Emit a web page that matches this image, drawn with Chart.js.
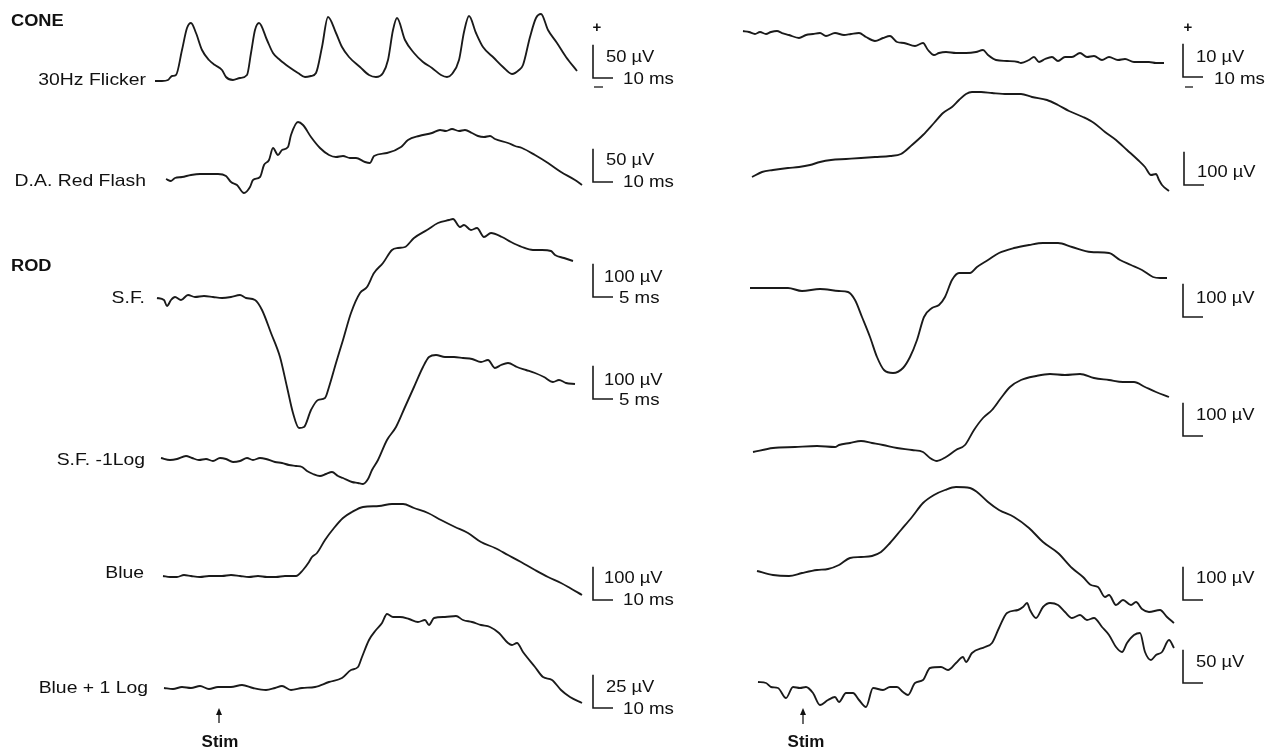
<!DOCTYPE html>
<html><head><meta charset="utf-8">
<script src="https://cdn.jsdelivr.net/npm/chart.js@4.4.1/dist/chart.umd.min.js"></script>
<style>html,body{margin:0;padding:0;background:#fff;overflow:hidden}canvas{display:block}</style>
</head><body><canvas id="c" width="1275" height="750"></canvas>
<script>
// ---- Trace data: [time (ms), amplitude (µV)] ----
const leftFlicker = [[0,0],[3.5,0],[6.5,1.5],[8.5,7.5],[10.5,9],[13.5,46.5],[16,79.5],[18,87],[20.5,72],[23.5,46.5],[27,31.5],[30,24],[33.5,16.5],[35.5,6],[39,1.5],[42.5,4.5],[46,9],[48,42],[50,76.5],[52,87],[56,61.5],[59,42],[62.5,31.5],[67,21],[71.5,12],[75,6],[78,7.5],[80.5,12],[83.5,51],[86.5,96],[90.5,72],[93.5,51],[97,36],[102.5,21],[107,9],[110.5,6],[114,12],[116.5,31.5],[119,76.5],[121,94.5],[125,61.5],[129.5,42],[134,28.5],[138.5,19.5],[143,9],[146,6],[148.5,10.5],[152,31.5],[154.5,73.5],[157,97.5],[160.5,72],[164,51],[169.5,34.5],[174,21],[178.5,10.5],[182,16.5],[184,24],[187.5,66],[190.5,94.5],[193,100.5],[196.5,76.5],[201,57],[205.5,36],[211,15]];
const leftRedFlash = [[0,-1.5],[2.5,-4.5],[4.5,0],[8,1.5],[12.5,4.5],[17,6],[21.5,6],[26,6],[30,3],[32.5,-6],[35.5,-10.5],[39,-22.5],[42,-13.5],[43.5,-3],[47,1.5],[49,19.5],[51.5,27],[53.5,45],[56,34.5],[58,42],[61,46.5],[62.5,64.5],[66,84],[68.5,79.5],[72.5,61.5],[77,45],[81.5,34.5],[85,31.5],[88.5,33],[92,30],[95,30],[99.5,24],[102,22.5],[104,33],[110.5,37.5],[117.5,46.5],[121,57],[126.5,63],[133,67.5],[137,72],[140,70.5],[143,73.5],[146.5,70.5],[149.5,72],[153,67.5],[156,63],[159,61.5],[162,63],[164.5,58.5],[171,52.5],[174.5,48],[178,45],[184.5,34.5],[191,22.5],[197.5,9],[204.5,-3],[208,-10.5]];
const leftSF = [[0,0],[1.75,-6],[2.5,-24],[3.5,-6],[4.5,3],[6,-6],[7.75,9],[9.5,3],[11.75,6],[14,3],[16.25,0],[18.5,3],[20.75,9],[22.25,0],[24.5,-6],[26.25,-36],[28.5,-105],[30.75,-177],[32.5,-267],[34,-345],[35.5,-390],[36.75,-387],[38.5,-336],[40.25,-306],[42,-300],[43,-267],[44.75,-195],[46.5,-126],[48.5,-45],[50.75,15],[52.5,33],[54.25,75],[56.5,105],[58.75,144],[60.25,150],[62,153],[64.25,180],[67.5,204],[70.25,225],[73,234],[74,237],[75.75,213],[76.75,219],[78.5,204],[80,210],[81.75,183],[83.5,195],[86.25,183],[88.5,168],[91.25,153],[94,144],[96.25,144],[98.5,141],[99.5,129],[101.75,120],[104,111]];
const leftSFminus1Log = [[0,3],[2.25,-3],[4,0],[6.25,9],[7.75,3],[9.5,-3],[11.25,0],[13,-6],[14.75,3],[16.25,0],[18,-9],[19.75,-6],[21.5,3],[23,-3],[24.75,3],[26.25,0],[28.5,-9],[30.25,-12],[32,-18],[33.75,-21],[35.25,-24],[36.5,-36],[38,-45],[39.75,-51],[41.25,-45],[42.75,-39],[44.25,-51],[45.5,-57],[47.75,-69],[49.25,-72],[50.5,-75],[51.75,-60],[52.75,-33],[54.25,-3],[56.5,57],[58.75,96],[61,156],[63.25,216],[65.5,276],[67,306],[68.75,312],[71,306],[73.25,306],[75.5,303],[77.75,300],[80,291],[81.75,297],[83.5,273],[85,282],[86.75,288],[89,276],[91.25,267],[93.5,258],[95.75,246],[98,231],[99.5,237],[101.25,228],[103.5,225]];
const leftBlue = [[0,0],[3.5,-3],[7,-3],[10.5,3],[14,0],[18.5,-3],[23,0],[29.5,0],[34,3],[38.5,0],[43,-3],[47.5,0],[52,-3],[56.5,-3],[61,0],[66.5,0],[70,18],[73,42],[74.5,57],[77,69],[81,108],[85.5,144],[90,174],[94.5,192],[100,207],[108,210],[114.5,216],[120,216],[125.5,204],[132.5,189],[139,168],[146,147],[152.5,129],[159,102],[166,84],[172.5,63],[179,42],[186,18],[192.5,-3],[199,-21],[203.5,-36],[209.5,-57]];
const leftBluePlus1Log = [[0,0],[4.5,-0.75],[9,0.75],[13.5,0],[18,1.5],[22.5,-0.75],[27,0.75],[33.5,0.75],[39,2.25],[44.5,0],[51,-1.5],[55.5,0],[59,1.5],[63.5,-1.5],[69,0],[75.5,0.75],[82.5,4.5],[89,7.5],[93.5,13.5],[97,15.75],[99,23.25],[102.5,36],[106,43.5],[109,48.75],[111.5,55.5],[114.5,53.25],[118,53.25],[122.5,51.75],[127,49.5],[130.5,51],[132.5,47.25],[135,52.5],[140.5,53.25],[146,54],[149.5,51],[154,49.5],[158.5,47.25],[163,45.75],[167.5,41.25],[172,33.75],[174,32.25],[176.5,33.75],[179.5,27],[185.5,15.75],[189.5,8.25],[194,6],[198.5,-1.5],[203,-6.75],[209,-11.25]];
const rightFlicker = [[0,0],[3,-0.3],[6,-0.9],[8.5,-0.3],[11.5,-0.9],[14,-0.3],[17,0],[19.5,-0.6],[23,-1.2],[28,-2.1],[31.5,-1.2],[35,-0.9],[38.5,-0.6],[41.5,-1.5],[46,-0.6],[50.5,-1.2],[54,-0.9],[58,-0.6],[61.5,-1.8],[66,-3],[70,-2.1],[73.5,-1.5],[77,-3.3],[80.5,-3.6],[86,-4.5],[90,-3.6],[92.5,-5.7],[95.5,-7.2],[98,-6.6],[101.5,-6.3],[106.5,-6.6],[111.5,-6.6],[116.5,-6.3],[120,-5.7],[122.5,-7.2],[126.5,-8.7],[132,-9],[137.5,-9.3],[139,-9.6],[143,-8.7],[145.5,-7.8],[148,-9.3],[151,-8.4],[154.5,-7.8],[157.5,-9],[161,-7.8],[164.5,-7.8],[168.5,-6.6],[172,-7.8],[175.5,-7.5],[179.5,-8.7],[183,-7.8],[187.5,-8.7],[191,-8.4],[195.5,-9.3],[199.5,-9.3],[203,-9.3],[206.5,-9.6],[210.5,-9.6]];
const rightRedFlash = [[0,0],[5,15],[10.5,21],[18,27],[23.5,30],[29,36],[34,45],[39.5,51],[47,54],[54.5,57],[61.5,60],[69,63],[74.5,69],[80,96],[85.5,126],[91,162],[95.5,192],[100,210],[103.5,231],[107,249],[110,255],[114.5,255],[120,252],[127.5,249],[134.5,249],[140,240],[147.5,231],[153,216],[158.5,198],[165.5,180],[171,162],[176.5,135],[182,111],[187.5,81],[193,51],[196.5,30],[199.5,6],[202,9],[203.5,-9],[205,-24],[208.5,-42]];
const rightSF = [[0,0],[11.5,0],[19,0],[26,-9],[35,-3],[44.5,-9],[49,-12],[52.5,-36],[56,-87],[60,-147],[63.5,-207],[67,-246],[71.5,-255],[76.5,-240],[80,-207],[83.5,-156],[87,-87],[91,-60],[94.5,-51],[97.5,-27],[101,24],[104.5,45],[110,45],[113.5,63],[119,84],[124.5,105],[132,120],[139.5,129],[146.5,135],[154,135],[161,123],[170.5,108],[179.5,105],[185,84],[190.5,69],[196,54],[201.5,33],[205,30],[208.5,30]];
const rightSFminus1Log = [[0,0],[10,12],[21,15],[32,18],[41,15],[43,21],[48.5,27],[54,33],[59.5,27],[65,21],[72,12],[79.5,6],[85,0],[88.5,-18],[92,-27],[96.5,-15],[101.5,6],[106,21],[110.5,66],[115,102],[119.5,126],[124,162],[128.5,195],[134,216],[141.5,228],[148.5,234],[156,231],[163.5,234],[170.5,222],[178,216],[185,210],[190.5,210],[196,195],[201.5,180],[208,165]];
const rightBlue = [[0,0],[8,-12],[16,-15],[22.5,-6],[30,3],[35.5,6],[41,18],[46.5,39],[52,42],[57.5,45],[62,57],[66.5,84],[72,123],[77.5,162],[83,204],[88.5,228],[94,243],[99.5,252],[106.5,249],[110,237],[115.5,207],[121,183],[128.5,162],[136,129],[143,87],[150.5,54],[157.5,9],[163,-18],[167,-42],[170.5,-48],[174,-78],[176,-72],[179.5,-102],[183,-87],[187,-102],[189.5,-93],[192.5,-114],[196,-123],[201.5,-117],[205,-138],[208.5,-156]];
const rightBluePlus1Log = [[0,0],[4,-1.5],[6.5,-7.5],[10,-9],[14,-24],[17.5,-7.5],[21,-9],[24,-7.5],[27.5,-16.5],[31,-34.5],[35,-27],[38.5,-22.5],[40.5,-30],[44,-16.5],[47.5,-16.5],[50.5,-27],[54,-37.5],[57.5,-9],[62.5,-12],[66,-7.5],[69.5,-7.5],[72.5,-15],[75,-19.5],[78.5,-1.5],[82.5,3],[86,21],[91.5,22.5],[95,18],[99,28.5],[102.5,37.5],[104,30],[107,43.5],[113.5,52.5],[117,58.5],[120.5,81],[124.5,103.5],[130,108],[132.5,112.5],[134.5,118.5],[136,108],[139,96],[142.5,112.5],[146,118.5],[150,115.5],[153.5,105],[157,96],[161,100.5],[164.5,93],[168,96],[172,82.5],[175.5,70.5],[179,52.5],[182,45],[184.5,58.5],[188,70.5],[191,73.5],[193.5,45],[196.5,33],[199,40.5],[202,45],[205.5,63],[208,51]];

// ---- Labels ----
const sectionLabels = ['CONE', 'ROD'];
const traceLabels = ['30Hz Flicker', 'D.A. Red Flash', 'S.F.', 'S.F. -1Log', 'Blue', 'Blue + 1 Log'];
const leftAmpBars = [50, 50, 100, 100, 100, 25];      // µV
const leftTimeBars = [10, 10, 5, 5, 10, 10];          // ms
const rightAmpBars = [10, 100, 100, 100, 100, 50];    // µV
const rightTimeBars = [10, null, null, null, null, null];
const stimLabel = 'Stim';

// ---- Layout (page pixels; positions/sizes only) ----
const W = 1275, H = 750;
const leftSeries = [leftFlicker, leftRedFlash, leftSF, leftSFminus1Log, leftBlue, leftBluePlus1Log];
const rightSeries = [rightFlicker, rightRedFlash, rightSF, rightSFminus1Log, rightBlue, rightBluePlus1Log];
// origin x, origin y (t=0, v=0), px per ms, µV per px
const leftGeom = [[155,81,2,1.5],[166,178,2,1.5],[157,298,4,3],[161,459,4,3],[163,576,2,3],[164,688,2,0.75]];
const rightGeom = [[743,31,2,0.3],[752,177,2,3],[750,288,2,3],[753,452,2,3],[757,571,2,3],[758,682,2,1.5]];
const leftLabelPos = [[146,80],[146,181],[145,298],[145,460],[144,573],[148,688]];
// bar corner x,y ; amp text left,y ; time text left,y
const leftBarPos = [[593,78,606,57,623,79],[593,182,606,160,623,182],[593,297,604,277,619,298],[593,399,604,380,619,400],[593,600,604,578,623,600],[593,708,606,687,623,709]];
const rightBarPos = [[1183,77,1196,57,1214,79],[1184,185,1197,172],[1183,317,1196,298],[1183,436,1196,415],[1183,600,1196,578],[1183,683,1196,662]];

const all = [];
leftSeries.forEach((d,i)=>all.push({data:d, g:leftGeom[i], amp:leftAmpBars[i], ms:leftTimeBars[i], bar:leftBarPos[i], barLen:leftTimeBars[i]}));
rightSeries.forEach((d,i)=>all.push({data:d, g:rightGeom[i], amp:rightAmpBars[i], ms:rightTimeBars[i], bar:rightBarPos[i], barLen:10}));

const scales = {
  x: {type:'linear', display:false, min:0, max:1},
  y: {type:'linear', display:false, min:0, max:1}
};
const datasets = all.map((t,i)=>{
  const [ox, oy, pxMs, uvPx] = t.g;
  scales['x'+i] = {type:'linear', axis:'x', display:false, min:-ox/pxMs, max:(W-ox)/pxMs};
  scales['y'+i] = {type:'linear', axis:'y', display:false, min:-(H-oy)*uvPx, max:oy*uvPx};
  return {
    data: t.data.map(p=>({x:p[0], y:p[1]})),
    xAxisID:'x'+i, yAxisID:'y'+i,
    borderColor:'#1a1a1a', borderWidth:1.85, pointRadius:0,
    cubicInterpolationMode:'monotone', fill:false, clip:false
  };
});

function txt(ctx, s, x, y, opt){
  opt = opt || {};
  ctx.save();
  ctx.font = (opt.bold?'bold ':'') + (opt.size||17) + 'px "Liberation Sans", Arial, Helvetica, sans-serif';
  ctx.fillStyle = '#111';
  ctx.textBaseline = 'middle';
  ctx.textAlign = opt.align || 'left';
  ctx.translate(x, y);
  ctx.scale(opt.stretch||1, 1);
  ctx.fillText(s, 0, 0);
  ctx.restore();
}

const annot = {
  id:'annot',
  afterDatasetsDraw(chart){
    const ctx = chart.ctx;
    txt(ctx, sectionLabels[0], 11, 22, {bold:true, size:16, stretch:1.14});
    txt(ctx, sectionLabels[1], 11, 267, {bold:true, size:16, stretch:1.14});
    traceLabels.forEach((s,i)=>txt(ctx, s, leftLabelPos[i][0], leftLabelPos[i][1], {align:'right', size:17, stretch:1.14}));
    ctx.save();
    ctx.strokeStyle = '#1a1a1a'; ctx.lineWidth = 1.6;
    all.forEach((t,i)=>{
      const xs = chart.scales['x'+i], ys = chart.scales['y'+i];
      const [bx, by] = t.bar;
      const v0 = ys.getValueForPixel(by), t0 = xs.getValueForPixel(bx);
      const top = ys.getPixelForValue(v0 + t.amp);
      const right = xs.getPixelForValue(t0 + t.barLen);
      ctx.beginPath();
      ctx.moveTo(bx, top); ctx.lineTo(bx, by); ctx.lineTo(right, by);
      ctx.stroke();
      txt(ctx, t.amp + ' µV', t.bar[2], t.bar[3], {size:17, stretch:1.08});
      if (t.ms) txt(ctx, t.ms + ' ms', t.bar[4], t.bar[5], {size:17, stretch:1.1});
    });
    [[597,28,594,603,87],[1188,28,1185,1193,87]].forEach(p=>{
      txt(ctx, '+', p[0], p[1], {bold:true, size:15, align:'center'});
      ctx.beginPath(); ctx.moveTo(p[2], p[4]); ctx.lineTo(p[3], p[4]); ctx.lineWidth=1.3; ctx.stroke();
    });
    [[219,708,723,220],[803,708,724,806]].forEach(p=>{
      ctx.beginPath(); ctx.moveTo(p[0], p[1]+5); ctx.lineTo(p[0], p[2]); ctx.lineWidth=1.3; ctx.stroke();
      ctx.beginPath(); ctx.moveTo(p[0], p[1]); ctx.lineTo(p[0]-3, p[1]+7); ctx.lineTo(p[0]+3, p[1]+7); ctx.closePath();
      ctx.fillStyle='#111'; ctx.fill();
      txt(ctx, stimLabel, p[3], 742, {bold:true, size:17, align:'center'});
    });
    ctx.restore();
  }
};

new Chart(document.getElementById('c'), {
  type:'line',
  data:{datasets},
  options:{
    responsive:false, animation:false, devicePixelRatio:1,
    layout:{padding:0},
    plugins:{legend:{display:false}, tooltip:{enabled:false}, title:{display:false}},
    events:[],
    scales
  },
  plugins:[annot]
});
</script>
</body></html>
